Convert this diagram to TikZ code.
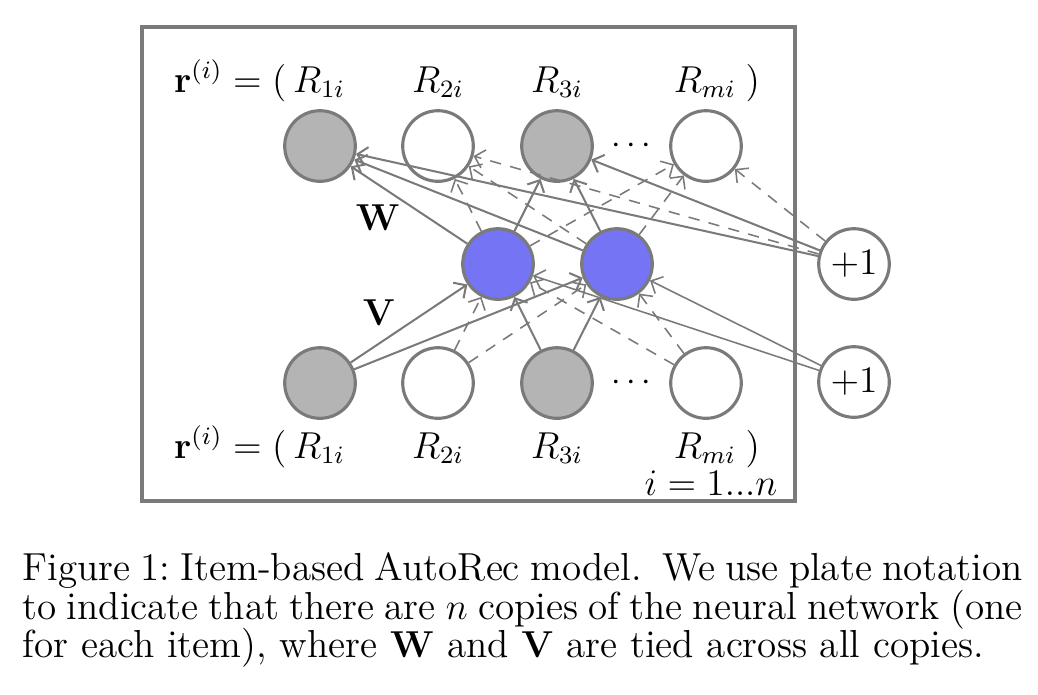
\documentclass[tikz,border=0pt]{standalone}
\usetikzlibrary{arrows.meta}
\definecolor{edgegray}{RGB}{122,122,122}
\definecolor{nodegray}{RGB}{180,180,180}
\definecolor{hidblue}{RGB}{117,116,245}
\begin{document}
\begin{tikzpicture}[x=0.32pt,y=-0.32pt,
  unit/.style={circle, draw=edgegray, line width=1pt, minimum size=22.6pt, inner sep=0pt},
  obs/.style={unit, fill=nodegray},
  unobs/.style={unit, fill=white},
  hid/.style={unit, fill=hidblue},
  bias/.style={unit, fill=white, font=\fontsize{12}{14}\selectfont},
  lbl/.style={inner sep=0pt, font=\fontsize{12}{14}\selectfont},
  dots/.style={inner sep=0pt, font=\fontsize{11}{13}\selectfont},
  capline/.style={anchor=base west, inner sep=0pt, font=\fontsize{12.5}{12.2}\selectfont\frenchspacing},
  tip/.style={-{Straight Barb[length=3pt,width=6pt]}},
  sol/.style={draw=edgegray, line width=0.65pt, tip},
  thn/.style={draw=edgegray, line width=0.5pt, tip},
  dsh/.style={draw=edgegray, line width=0.5pt, dash pattern=on 3.6pt off 3pt, tip},
  plate/.style={draw=edgegray, line width=1pt}
]
\useasboundingbox (0,0) rectangle (1038,694);

% plate
\draw[plate] (142,27) rectangle (795,501);

% output layer
\node[obs]   (o1) at (320,146) {};
\node[unobs] (o2) at (438,146) {};
\node[obs]   (o3) at (557,146) {};
\node[unobs] (om) at (706,146) {};
% hidden layer
\node[hid] (h1) at (498,264) {};
\node[hid] (h2) at (617,264) {};
% input layer
\node[obs]   (i1) at (320,383) {};
\node[unobs] (i2) at (438,383) {};
\node[obs]   (i3) at (557,383) {};
\node[unobs] (im) at (706,383) {};
% bias units
\node[bias] (b2) at (854,264) {$+1$};
\node[bias] (b1) at (854,382) {$+1$};

% dots
\node[dots] (dt) at (631,146) {$\cdots$};
\node[dots] (db) at (631,383) {$\cdots$};

% labels top
\node[lbl, anchor=base east] (rt) at (287,92) {$\mathbf{r}^{(i)} = ($};
\node[lbl, anchor=base] (lt1) at (319,92) {$R_{1i}$};
\node[lbl, anchor=base] (lt2) at (438,92) {$R_{2i}$};
\node[lbl, anchor=base] (lt3) at (557,92) {$R_{3i}$};
\node[lbl, anchor=base] (ltm) at (705,92) {$R_{mi}$};
\node[lbl, anchor=base west] (ptc) at (745,92) {$)$};
% labels bottom
\node[lbl, anchor=base east] (rb) at (287,458) {$\mathbf{r}^{(i)} = ($};
\node[lbl, anchor=base] (lb1) at (319,458) {$R_{1i}$};
\node[lbl, anchor=base] (lb2) at (438,458) {$R_{2i}$};
\node[lbl, anchor=base] (lb3) at (557,458) {$R_{3i}$};
\node[lbl, anchor=base] (lbm) at (705,458) {$R_{mi}$};
\node[lbl, anchor=base west] (pbc) at (745,458) {$)$};
\node[lbl, anchor=base] (idx) at (711,495) {$i = 1 ... n$};
% weights
\node[lbl] (W) at (378,218) {$\mathbf{W}$};
\node[lbl] (V) at (379,313) {$\mathbf{V}$};

% input -> hidden
\draw[sol] (i1) -- (h1);
\draw[sol] (i1) -- (h2);
\draw[sol] (i3) -- (h1);
\draw[sol] (i3) -- (h2);
\draw[dsh] (i2) -- (h1);
\draw[dsh] (i2) -- (h2);
\draw[dsh] (im) -- (h1);
\draw[dsh] (im) -- (h2);
\draw[thn] (b1) -- (h1);
\draw[thn] (b1) -- (h2);

% hidden -> output
\draw[sol] (h1) -- (o1);
\draw[sol] (h2) -- (o1);
\draw[sol] (h1) -- (o3);
\draw[sol] (h2) -- (o3);
\draw[dsh] (h1) -- (o2);
\draw[dsh] (h2) -- (o2);
\draw[dsh] (h1) -- (om);
\draw[dsh] (h2) -- (om);
\draw[sol] (b2) -- (o1);
\draw[sol] (b2) -- (o3);
\draw[dsh] (b2) -- (o2);
\draw[dsh] (b2) -- (om);

% caption
\node[capline] (cap1) at (22,580) {\hbox to 320pt{Figure 1: Item-based AutoRec model.\ \ We use plate notation}};
\node[capline] (cap2) at (22,619) {\hbox to 320pt{to indicate that there are $n$ copies of the neural network (one}};
\node[capline] (cap3) at (22,657) {for each item), where $\mathbf{W}$ and $\mathbf{V}$ are tied across all copies.};
\end{tikzpicture}
\end{document}
